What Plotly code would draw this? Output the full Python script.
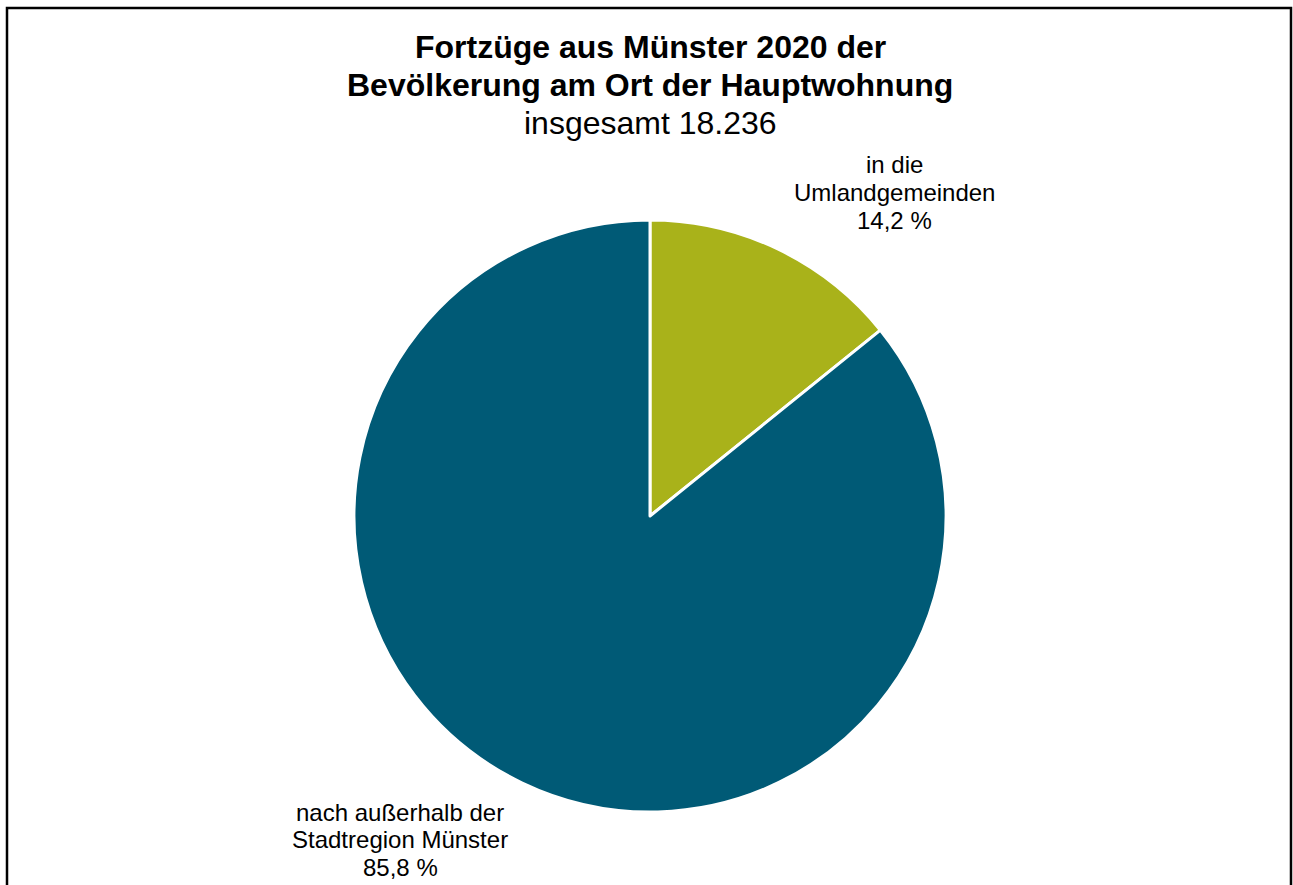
import plotly.graph_objects as go

# Data
categories = ["in die<br>Umlandgemeinden", "nach außerhalb der<br>Stadtregion Münster"]
shares = [14.2, 85.8]
colors = ["#A9B21A", "#005A76"]
title_lines = ["Fortzüge aus Münster 2020 der", "Bevölkerung am Ort der Hauptwohnung"]
subtitle = "insgesamt 18.236"

W, H = 1293, 885
FONT = "Liberation Sans, Arial, sans-serif"

def px(x):
    return x / W

def py(y):
    return 1 - y / H

cx, cy, r = 650, 516, 296

fig = go.Figure(go.Pie(
    labels=[c.replace("<br>", " ") for c in categories],
    values=shares,
    marker=dict(colors=colors, line=dict(color="white", width=3)),
    sort=False,
    direction="clockwise",
    rotation=0,
    textinfo="none",
    hoverinfo="label+percent",
    showlegend=False,
    domain=dict(x=[px(cx - r), px(cx + r)], y=[py(cy + r), py(cy - r)]),
))

annotations = []
# Title lines
for i, (txt, bold) in enumerate([(title_lines[0], True), (title_lines[1], True), (subtitle, False)]):
    annotations.append(dict(
        x=px(650), y=py(47 + 38 * i), xref="paper", yref="paper",
        text=f"<b>{txt}</b>" if bold else txt, showarrow=False,
        xanchor="center", yanchor="middle",
        font=dict(family=FONT, size=32, color="black"),
    ))

# Slice labels
label_pos = [(895, 165), (400, 812)]
for cat, val, (lx, ly) in zip(categories, shares, label_pos):
    lines = cat.split("<br>") + [f"{val:.1f}".replace(".", ",") + " %"]
    for j, ln in enumerate(lines):
        annotations.append(dict(
            x=px(lx), y=py(ly + 27.5 * j), xref="paper", yref="paper",
            text=ln, showarrow=False, xanchor="center", yanchor="middle",
            font=dict(family=FONT, size=24, color="black"),
        ))

fig.update_layout(
    width=W, height=H,
    margin=dict(l=0, r=0, t=0, b=0),
    paper_bgcolor="white", plot_bgcolor="white",
    annotations=annotations,
    shapes=[dict(type="rect", xref="paper", yref="paper",
                 x0=px(7), x1=px(1291), y0=py(H + 20), y1=py(8),
                 line=dict(color="black", width=2.5), fillcolor="rgba(0,0,0,0)")],
)

fig.write_html(
    "out.html",
    config={"displayModeBar": False},
    post_script="document.body.style.margin='0';document.body.style.overflow='hidden';",
)
